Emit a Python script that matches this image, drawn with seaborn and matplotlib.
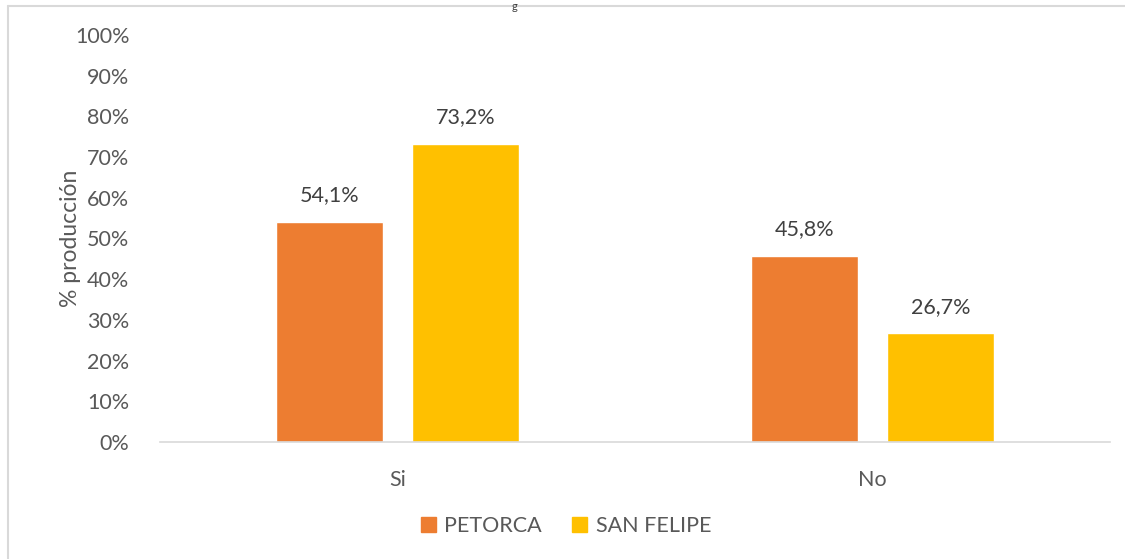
import numpy as np
import pandas as pd
import seaborn as sns
import matplotlib.pyplot as plt
from matplotlib.lines import Line2D

# datos del grafico
categorias = ['Si', 'No']
petorca = [54.1, 45.8]
san_felipe = [73.2, 26.7]
series = ['PETORCA', 'SAN FELIPE']
colores = ['#ED7D31', '#FFC000']
yticks = np.arange(0, 101, 10)

df = pd.DataFrame({
    'cat': categorias * 2,
    'serie': [series[0]] * 2 + [series[1]] * 2,
    'valor': petorca + san_felipe,
})

sns.set_style('white')
plt.rcParams['font.family'] = ['Lato', 'DejaVu Sans']
fs = 15.5

fig = plt.figure(figsize=(11.25, 5.59), dpi=100)
ax = fig.add_axes([160 / 1125, 1 - 442 / 559, 950 / 1125, (442 - 35) / 559])

sns.barplot(data=df, x='cat', y='valor', hue='serie', palette=colores,
            width=0.573, gap=0.22, saturation=1, ax=ax, legend=True)

ax.set_ylim(0, 100)
ax.set_xlim(-0.5, 1.5)
ax.set_yticks(yticks)
ax.set_yticklabels([f'{v}%' for v in yticks], color='#595959', fontsize=fs)
ax.tick_params(axis='x', colors='#595959', labelsize=fs, length=0, pad=20)
ax.tick_params(axis='y', length=0, pad=22)
ax.set_xlabel('')
ax.set_ylabel('% producción', color='#595959', fontsize=fs + 1, labelpad=-4)

for s in ['top', 'right', 'left']:
    ax.spines[s].set_visible(False)
ax.spines['bottom'].set_color('#D9D9D9')
ax.spines['bottom'].set_linewidth(1.2)

for cont in ax.containers:
    ax.bar_label(cont, labels=[f'{v:.1f}%'.replace('.', ',') for v in cont.datavalues],
                 padding=12, color='#404040', fontsize=fs)

ax.legend_.remove()
handles = [plt.Rectangle((0, 0), 1, 1, color=c) for c in colores]
fig.legend(handles, series, loc='center', bbox_to_anchor=(0.503, 1 - 526 / 559),
           ncol=2, frameon=False, fontsize=fs, handlelength=0.7, handleheight=0.7,
           columnspacing=1.4, handletextpad=0.4, labelcolor='#595959')

# borde del area del grafico
fig.add_artist(Line2D([8 / 1125, 8 / 1125], [0, 1 - 5.5 / 559], transform=fig.transFigure,
                      color='#D9D9D9', lw=1.5))
fig.add_artist(Line2D([8 / 1125, 1], [1 - 5.5 / 559, 1 - 5.5 / 559], transform=fig.transFigure,
                      color='#D9D9D9', lw=1.5))
fig.text(512 / 1125, 1 - 1 / 559, 'g', fontsize=8, color='#404040', va='top')

fig.savefig('out.png', dpi=100)
